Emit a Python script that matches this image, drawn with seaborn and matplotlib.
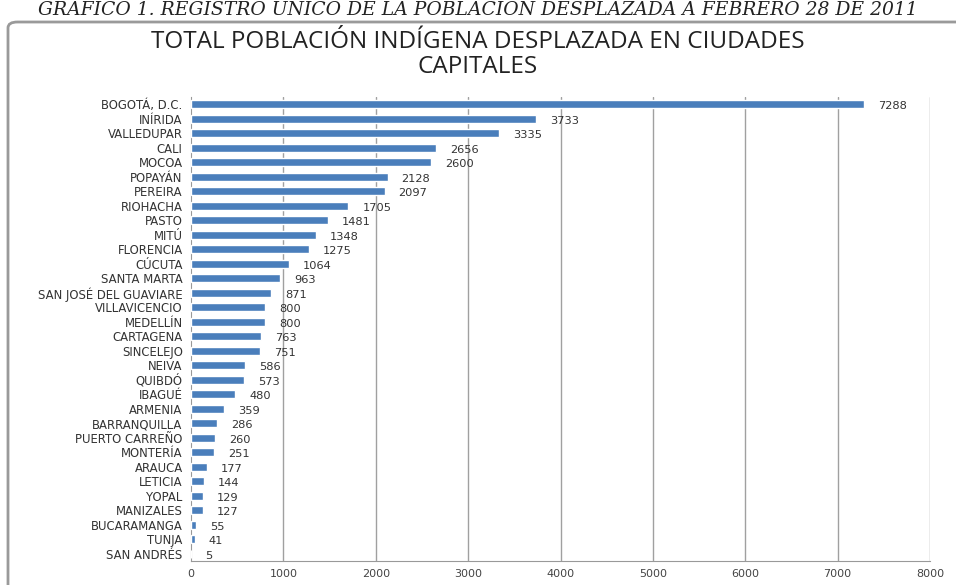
import matplotlib.pyplot as plt
import seaborn as sns
import pandas as pd
from matplotlib.patches import FancyBboxPatch

ciudades = ["BOGOTÁ, D.C.", "INÍRIDA", "VALLEDUPAR", "CALI", "MOCOA", "POPAYÁN",
            "PEREIRA", "RIOHACHA", "PASTO", "MITÚ", "FLORENCIA", "CÚCUTA",
            "SANTA MARTA", "SAN JOSÉ DEL GUAVIARE", "VILLAVICENCIO", "MEDELLÍN",
            "CARTAGENA", "SINCELEJO", "NEIVA", "QUIBDÓ", "IBAGUÉ", "ARMENIA",
            "BARRANQUILLA", "PUERTO CARREÑO", "MONTERÍA", "ARAUCA", "LETICIA",
            "YOPAL", "MANIZALES", "BUCARAMANGA", "TUNJA", "SAN ANDRÉS"]
poblacion = [7288, 3733, 3335, 2656, 2600, 2128, 2097, 1705, 1481, 1348, 1275, 1064,
             963, 871, 800, 800, 763, 751, 586, 573, 480, 359, 286, 260, 251, 177,
             144, 129, 127, 55, 41, 5]
ticks_x = [0, 1000, 2000, 3000, 4000, 5000, 6000, 7000, 8000]

df = pd.DataFrame({"ciudad": ciudades, "poblacion": poblacion})

sns.set_style("white")
plt.rcParams["font.family"] = ["DejaVu Sans"]

fig = plt.figure(figsize=(9.56, 5.85), dpi=100)

# marco exterior redondeado
marco = FancyBboxPatch((8 / 956, -0.1), 1.2, 1 - 22 / 585 + 0.1,
                       boxstyle="round,pad=0,rounding_size=0.01",
                       transform=fig.transFigure, facecolor="white",
                       edgecolor="#9a9a9a", linewidth=2, zorder=-1)
fig.patches.append(marco)

fig.text(0.5, 1 - 10 / 585, "GRÁFICO 1. REGISTRO ÚNICO DE LA POBLACIÓN DESPLAZADA A FEBRERO 28 DE 2011",
         ha="center", va="center", fontsize=13.5, family=["DejaVu Serif"],
         style="italic", color="#222222")

ax = fig.add_axes([191 / 956, 1 - 561 / 585, (930 - 191) / 956, (561 - 97) / 585])
ax.set_zorder(2)
ax.patch.set_alpha(0)
sns.barplot(data=df, x="poblacion", y="ciudad", orient="h", color="#4a7ebb",
            saturation=1, width=0.55, ax=ax, zorder=3)

ax.set_xlim(0, 8000)
ax.set_xticks(ticks_x)
ax.set_xticklabels([str(t) for t in ticks_x], fontsize=8, color="#444444")
ax.set_ylim(len(ciudades) - 0.5, -0.5)
ax.tick_params(axis="y", labelsize=8.4, labelcolor="#333333", length=0, pad=6)
ax.tick_params(axis="x", length=4, color="#999999", pad=2)
ax.set_yticks(range(len(ciudades)), minor=False)
ax.set_yticks([i + 0.5 for i in range(-1, len(ciudades))], minor=True)
ax.tick_params(axis="y", which="minor", length=3, color="#999999")
ax.set_xlabel("")
ax.set_ylabel("")

for t in ticks_x[1:]:
    ax.axvline(t, color="#a0a0a0", linewidth=1, zorder=1)

for s in ["top", "right"]:
    ax.spines[s].set_visible(False)
for s in ["left", "bottom"]:
    ax.spines[s].set_color("#999999")

for i, v in enumerate(poblacion):
    ax.annotate(str(v), (v, i), xytext=(10, -1.5), textcoords="offset points",
                ha="left", va="center", fontsize=8.2, color="#333333", zorder=4)

fig.text(0.5, 1 - 42 / 585, "TOTAL POBLACIÓN INDÍGENA DESPLAZADA EN CIUDADES",
         ha="center", va="center", fontsize=17.5, color="#222222",
         family=["Open Sans", "DejaVu Sans"])
fig.text(0.5, 1 - 67 / 585, "CAPITALES",
         ha="center", va="center", fontsize=17.5, color="#222222",
         family=["Open Sans", "DejaVu Sans"])

fig.savefig("out.png", dpi=100)
